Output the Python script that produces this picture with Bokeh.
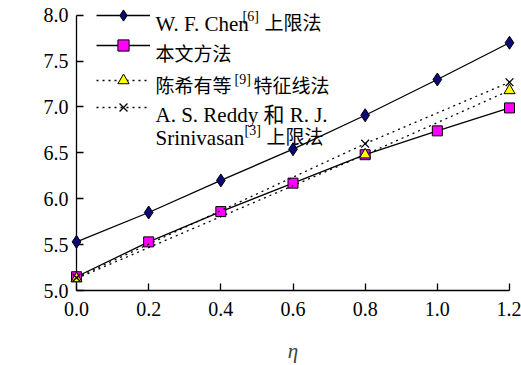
import math
from bokeh.plotting import figure
from bokeh.models import Label, Legend, LegendItem, Range1d, FixedTicker
from bokeh.embed import file_html
from bokeh.resources import INLINE

# ---- data ----
eta = [0.0, 0.2, 0.4, 0.6, 0.8, 1.0, 1.2]
chen = [5.53, 5.85, 6.20, 6.54, 6.91, 7.30, 7.70]
present = [5.15, 5.53, 5.86, 6.17, 6.48, 6.74, 6.99]
eta_sparse = [0.0, 0.8, 1.2]
chen_xiyou = [5.13, 6.48, 7.18]
reddy = [5.14, 6.60, 7.27]
x_ticks = [0.0, 0.2, 0.4, 0.6, 0.8, 1.0, 1.2]
y_ticks = [5.0, 5.5, 6.0, 6.5, 7.0, 7.5, 8.0]

SERIF = "Liberation Serif"
MIXED = "Liberation Serif, Noto Sans CJK SC"
TICK_FS = "20px"
LEG_FS = "21px"
CJK_FS = "19px"
SUP_FS = "14px"

W, H = 521, 365
# page px: y=5.0 at 295, y=8.0 at 15; frame extended to the top edge so the
# legend can sit above the 8.0 tick, axis itself is bounded to 5..8
FR_L, FR_R, FR_B = 76, 509, 295
PX_PER_Y = (295 - 15) / 3.0
FR_T = 0
Y_TOP = 5.0 + (FR_B - FR_T) / PX_PER_Y

p = figure(width=W, height=H, output_backend="svg", toolbar_location=None,
           x_range=Range1d(0, 1.2), y_range=Range1d(5.0, Y_TOP),
           min_border_left=FR_L, min_border_right=W - FR_R,
           min_border_top=FR_T, min_border_bottom=H - FR_B)
p.outline_line_color = None
p.grid.visible = False
p.background_fill_color = "white"
p.border_fill_color = "white"

for ax in (p.xaxis[0], p.yaxis[0]):
    ax.major_label_text_font = SERIF
    ax.major_label_text_font_size = TICK_FS
    ax.major_label_text_color = "black"
    ax.axis_line_color = "black"
    ax.axis_line_width = 1.3
    ax.major_tick_line_color = "black"
    ax.major_tick_line_width = 1.3
    ax.major_tick_in = 7
    ax.major_tick_out = 0
    ax.minor_tick_line_color = None
p.xaxis.major_label_standoff = 11
p.yaxis.major_label_standoff = 8
p.yaxis.bounds = (5.0, 8.0)

p.xaxis.ticker = FixedTicker(ticks=x_ticks)
p.yaxis.ticker = FixedTicker(ticks=y_ticks)
p.xaxis.major_label_overrides = {t: f"{t:.1f}" for t in x_ticks}
p.yaxis.major_label_overrides = {t: f"{t:.1f}" for t in y_ticks}
p.xaxis.axis_label = "η"
p.xaxis.axis_label_text_font = SERIF
p.xaxis.axis_label_text_font_style = "italic"
p.xaxis.axis_label_text_font_size = "21px"
p.xaxis.axis_label_standoff = 20

# ---- series ----
r1l = p.line(eta, chen, line_color="black", line_width=1.3, level="overlay")
r1m = p.scatter(eta, chen, marker="diamond", size=13, fill_color="#0a0a78",
                line_color="black", line_width=1, level="overlay")
r2l = p.line(eta, present, line_color="black", line_width=1.3, level="overlay")
r2m = p.scatter(eta, present, marker="square", size=10, fill_color="#ff00ff",
                line_color="black", line_width=1, level="overlay")
r3l = p.line(eta_sparse, chen_xiyou, line_color="black", line_width=1.3,
             line_dash="2 4", level="overlay")
r3m = p.scatter(eta_sparse, chen_xiyou, marker="triangle", size=11,
                fill_color="#ffff00", line_color="black", line_width=1,
                level="overlay")
r4l = p.line(eta_sparse, reddy, line_color="black", line_width=1.3,
             line_dash="2 4", level="overlay")
r4m = p.scatter(eta_sparse, reddy, marker="x", size=11, line_color="black",
                line_width=1.3, level="overlay")

# ---- legend (samples via Legend, texts via Labels) ----
FR_H = FR_B - FR_T
GH = 28
LEG_DY = 4

def leg(renderers, row_center):
    c = row_center + LEG_DY
    lg = Legend(items=[LegendItem(label=" ", renderers=renderers)],
                location=(96 - FR_L, FR_H - (c - FR_T) - GH / 2),
                glyph_width=54, glyph_height=GH, label_width=1,
                label_standoff=0, padding=0, margin=0, spacing=0,
                border_line_alpha=0, background_fill_alpha=0,
                label_text_font_size="1px")
    p.add_layout(lg)

leg([r1l, r1m], 16)
leg([r2l, r2m], 46)
leg([r3l, r3m], 81)
leg([r4l, r4m], 108)

def px2x(px):
    return (px - FR_L) / (FR_R - FR_L) * 1.2

def py2y(py):
    return 5.0 + (FR_B - py) / PX_PER_Y

def txt(s, px, py, fs=LEG_FS, style="normal", angle=0.0, font=MIXED):
    p.add_layout(Label(x=px2x(px), y=py2y(py), text=s, text_font=font,
                       text_font_size=fs, text_font_style=style,
                       text_baseline="alphabetic", text_align="left",
                       text_color="black", angle=angle))

txt("W. F. Chen", 155, 24)
txt("[6]", 242, 16, SUP_FS)
txt("上限法", 264, 23, CJK_FS)
txt("本文方法", 155, 55, CJK_FS)
txt("陈希有等", 155, 87, CJK_FS)
txt("[9]", 234, 80, SUP_FS)
txt("特征线法", 253, 87, CJK_FS)
txt("A. S. Reddy 和 R. J.", 155, 116)
txt("Srinivasan", 155, 140)
txt("[3]", 244, 132, SUP_FS)
txt("上限法", 266, 139, CJK_FS)

# y-axis label N_c'
txt("N", 23, 175, "21px", "italic", math.pi / 2, SERIF)
txt("c", 27, 157, "15px", "italic", math.pi / 2, SERIF)
txt("′", 13, 156, "18px", "normal", math.pi / 2, SERIF)

open("out.html", "w").write(file_html(p, INLINE))
